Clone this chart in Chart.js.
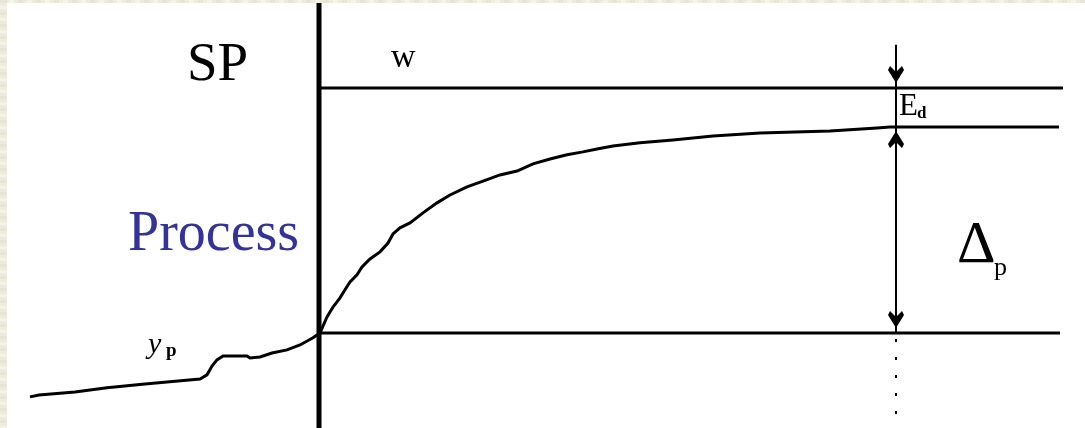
<!DOCTYPE html>
<html>
<head>
<meta charset="utf-8">
<script src="https://cdn.jsdelivr.net/npm/chart.js@4/dist/chart.umd.min.js"></script>
<style>
  html, body { margin: 0; padding: 0; background: #ffffff; }
  #wrap { width: 1085px; height: 428px; }
</style>
</head>
<body>
<div id="wrap"><canvas id="stepChart" width="1085" height="428"></canvas></div>
<script>
// Process response to a setpoint step (time in s, value in % of the step)
const preTime  = [-29, -28.1, -24.5, -21.3, -17.5, -14.2, -12.0, -11.3, -10.8, -10.3, -9.7, -7.3, -7.0, -6.0, -4.8, -3.3, -2.0, -0.7, 0];
const preValue = [-26.1, -25.3, -24.1, -22.4, -20.8, -19.6, -18.8, -17.1, -13.5, -11.0, -9.4, -9.4, -10.2, -9.8, -8.2, -6.9, -4.9, -2.0, 0];

const riseTime  = [0.7, 1.3, 2.0, 2.5, 3.0, 3.7, 4.2, 5.0, 6.0, 6.8, 7.3, 8.0, 9.0, 10.3, 11.7, 13.0, 14.7, 16.3, 18.0, 19.7,
                   21.3, 23.0, 24.7, 26.3, 27.7, 29.3, 32.0, 35.3, 39.3, 44.0, 51.0, 55.7, 57.0, 73.9];
const riseValue = [6.5, 10.6, 14.3, 17.6, 20.8, 23.7, 26.9, 30.2, 33.1, 36.7, 40.4, 42.9, 44.9, 49.0, 53.1, 56.3, 59.6, 62.0, 64.5, 66.1,
                   69.0, 71.0, 72.7, 73.9, 75.1, 76.3, 77.6, 78.8, 80.4, 81.6, 82.4, 83.7, 84.1, 84.1];

const STEP_TIME = 0;        // setpoint change
const END_TIME = 74;        // right end of the reference lines
const SETPOINT = 100;       // w
const BASELINE = 0;         // y before the step
const STEADY = 84.1;        // final process value
const MARK_TIME = 57.6;     // Ed / Δp measuring line
const MARK_TOP = 117.6;
const X_RANGE = [-32, 76.5];
const Y_RANGE = [-38.8, 135.9];
const STEP_TOP = 134.7;

const SERIF = '"Liberation Serif", "Times New Roman", Times, serif';

const toPoints = (xs, ys) => xs.map((x, i) => ({ x: x, y: ys[i] }));

const processPoints = toPoints(preTime, preValue).concat(toPoints(riseTime, riseValue));

// page background with the light textured border on top / left
const backdrop = {
    id: 'backdrop',
    beforeDraw(chart) {
        const ctx = chart.ctx;
        ctx.save();
        ctx.fillStyle = '#ecebdc';
        ctx.fillRect(0, 0, chart.width, chart.height);
        for (let i = 0; i < chart.height; i += 6) {
            ctx.fillStyle = (i / 6) % 2 ? '#f3f3e9' : '#e6e6d4';
            ctx.fillRect(0, i, 7, 3);
        }
        for (let i = 0; i < chart.width; i += 9) {
            ctx.fillStyle = (i / 9) % 2 ? '#f4f4ea' : '#e7e6d6';
            ctx.fillRect(i, 0, 5, 3);
        }
        ctx.fillStyle = '#ffffff';
        ctx.fillRect(7, 3, chart.width - 7, chart.height - 3);
        ctx.restore();
    }
};

function arrowHead(ctx, x, tipY, dir) {
    // dir = 1 points down, -1 points up
    const h = 17, w = 8;
    ctx.beginPath();
    ctx.moveTo(x, tipY);
    ctx.lineTo(x - w, tipY - dir * (h - 4));
    ctx.lineTo(x - w + 2, tipY - dir * h);
    ctx.lineTo(x, tipY - dir * (h - 6));
    ctx.lineTo(x + w - 2, tipY - dir * h);
    ctx.lineTo(x + w, tipY - dir * (h - 4));
    ctx.closePath();
    ctx.fill();
}

// arrows and labels
const annotations = {
    id: 'annotations',
    afterDatasetsDraw(chart) {
        const ctx = chart.ctx;
        const xs = chart.scales.x, ys = chart.scales.y;
        const ax = xs.getPixelForValue(MARK_TIME);
        ctx.save();
        ctx.fillStyle = '#000000';
        arrowHead(ctx, ax, ys.getPixelForValue(SETPOINT) - 5, 1);
        arrowHead(ctx, ax, ys.getPixelForValue(STEADY) + 4, -1);
        arrowHead(ctx, ax, ys.getPixelForValue(BASELINE) - 5, 1);

        ctx.textBaseline = 'alphabetic';
        ctx.textAlign = 'left';
        ctx.font = '55px ' + SERIF;
        ctx.fillText('SP', 187, 80);

        ctx.fillStyle = '#333399';
        ctx.font = '56px ' + SERIF;
        ctx.fillText('Process', 128, 250);

        ctx.fillStyle = '#000000';
        ctx.font = '34px ' + SERIF;
        ctx.fillText('w', 391, 67);

        ctx.font = 'italic 30px ' + SERIF;
        ctx.fillText('y', 148, 353);
        ctx.font = 'bold 19px ' + SERIF;
        ctx.fillText('p', 166, 356);

        ctx.font = '31px ' + SERIF;
        ctx.fillText('E', 899, 115);
        ctx.font = 'bold 17px ' + SERIF;
        ctx.fillText('d', 917, 118);

        ctx.font = '60px ' + SERIF;
        ctx.fillText('\u0394', 957, 262);
        ctx.font = '26px ' + SERIF;
        ctx.fillText('p', 994, 275);
        ctx.restore();
    }
};

function drawChart() {
    const black = '#000000';
    const ctx = document.getElementById('stepChart').getContext('2d');
    new Chart(ctx, {
        type: 'scatter',
        data: {
            datasets: [
                { label: 'process', data: processPoints, borderWidth: 3 },
                { label: 'w', data: [{ x: STEP_TIME, y: SETPOINT }, { x: END_TIME + 0.3, y: SETPOINT }], borderWidth: 3 },
                { label: 'y0', data: [{ x: STEP_TIME, y: BASELINE }, { x: END_TIME, y: BASELINE }], borderWidth: 3 },
                { label: 'step', data: [{ x: STEP_TIME - 0.1, y: STEP_TOP }, { x: STEP_TIME - 0.1, y: Y_RANGE[0] }], borderWidth: 5 },
                { label: 'mark', data: [{ x: MARK_TIME, y: MARK_TOP }, { x: MARK_TIME, y: BASELINE }], borderWidth: 2 },
                { label: 'mark below', data: [{ x: MARK_TIME, y: BASELINE - 2.5 }, { x: MARK_TIME, y: Y_RANGE[0] }], borderWidth: 2, borderDash: [3, 15] }
            ].map(d => Object.assign({
                showLine: true,
                borderColor: black,
                backgroundColor: black,
                pointRadius: 0,
                tension: 0,
                fill: false
            }, d))
        },
        options: {
            responsive: false,
            animation: false,
            devicePixelRatio: 1,
            layout: { padding: 0 },
            plugins: {
                legend: { display: false },
                tooltip: { enabled: false }
            },
            scales: {
                x: { type: 'linear', min: X_RANGE[0], max: X_RANGE[1], display: false },
                y: { type: 'linear', min: Y_RANGE[0], max: Y_RANGE[1], display: false }
            }
        },
        plugins: [backdrop, annotations]
    });
}

// make sure the serif face is ready before the canvas text is drawn
Promise.all([
    document.fonts.load('55px "Liberation Serif"'),
    document.fonts.load('italic 30px "Liberation Serif"'),
    document.fonts.load('bold 19px "Liberation Serif"')
]).then(drawChart, drawChart);
</script>
</body>
</html>
